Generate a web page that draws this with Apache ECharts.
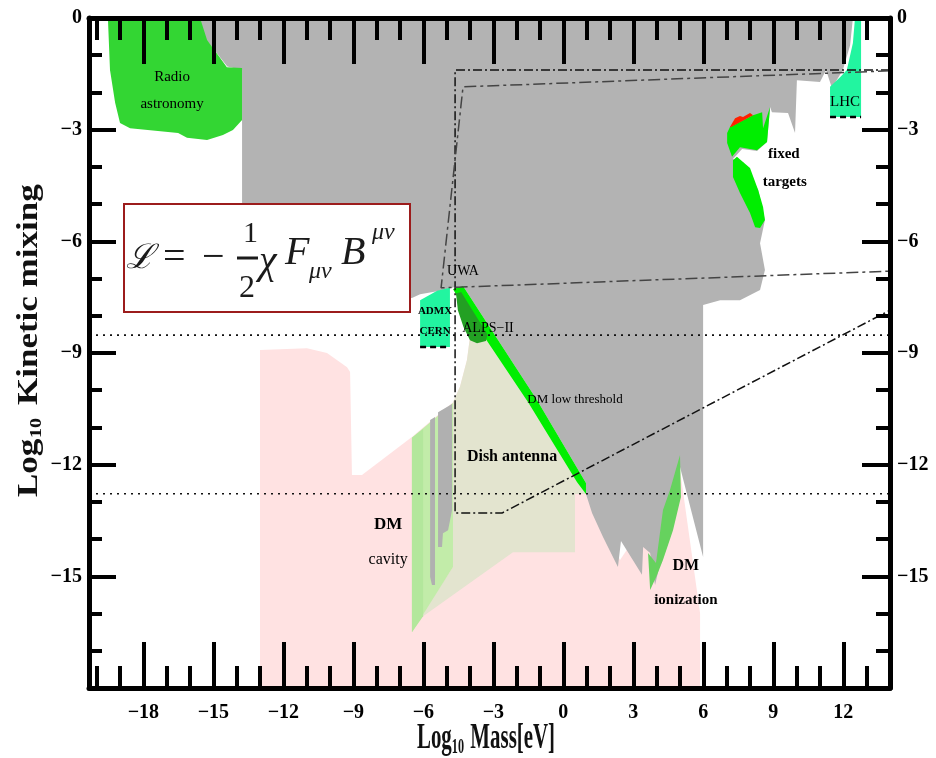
<!DOCTYPE html>
<html>
<head>
<meta charset="utf-8">
<title>Kinetic mixing limits</title>
<script src="https://cdn.jsdelivr.net/npm/echarts@6/dist/echarts.min.js"></script>
<style>
html, body { margin: 0; padding: 0; background: #fff; }
#chart { width: 936px; height: 758px; }
</style>
</head>
<body>
<div id="chart"></div>
<script>
// axis ranges / ticks (log10 mass in eV, log10 chi)
const xRange = [-20.33, 14.0];
const yRange = [-18, 0];
const xMajorTicks = [-18, -15, -12, -9, -6, -3, 0, 3, 6, 9, 12];
const xMinorTicks = [-20, -19, -17, -16, -14, -13, -11, -10, -8, -7, -5, -4, -2, -1, 1, 2, 4, 5, 7, 8, 10, 11, 13];
const yMajorTicks = [-15, -12, -9, -6, -3];
const yLabelValues = [0, -3, -6, -9, -12, -15];
const yMinorTicks = [-1, -2, -4, -5, -7, -8, -10, -11, -13, -14, -16, -17];

// regions, [log10 m, log10 chi]
const pinkRegion = [[-13.00,-18],[-13.00,-8.92],[-10.99,-8.87],[-10.13,-9.00],[-9.27,-9.38],[-9.14,-9.51],[-9.06,-12.28],[-8.63,-12.28],[-6.49,-11.26],[-4.73,-10.32],[-4.43,-9.91],[-4.13,-9.19],[-4.00,-8.57],[0.97,-12.79],[2.43,-14.56],[5.00,-12.14],[5.86,-15.99],[5.86,-18]];
const dishAntenna = [[-4.00,-8.57],[-3.14,-8.57],[0.97,-12.79],[0.50,-12.79],[0.50,-14.35],[-2.16,-14.35],[-6.19,-16.15],[-4.73,-14.75],[-4.73,-10.32],[-4.43,-9.91],[-4.13,-9.19]];
const dmCavity = [[-6.49,-11.28],[-4.73,-10.34],[-4.73,-14.75],[-6.49,-16.50]];
const dmCavityEdge = [[-6.49,-11.28],[-6.01,-11.04],[-6.01,-16.07],[-6.49,-16.50]];
const cavityStreakA = [[-5.71,-10.80],[-5.50,-10.72],[-5.50,-15.23],[-5.63,-15.23],[-5.71,-15.02]];
const cavityStreakB = [[-5.37,-10.59],[-4.77,-10.37],[-4.77,-13.22],[-4.94,-13.76],[-5.16,-13.84],[-5.20,-14.21],[-5.37,-14.21]];
const excludedRegion = [[-15.70,0],[12.41,0],[12.29,-0.73],[11.98,-1.40],[11.51,-1.88],[11.26,-1.40],[11.00,-1.72],[10.01,-1.67],[9.93,-3.09],[9.63,-2.55],[8.94,-2.53],[8.86,-2.39],[8.73,-3.33],[8.30,-3.57],[7.66,-3.52],[7.27,-3.79],[7.70,-3.87],[8.35,-4.62],[8.64,-5.43],[8.43,-6.05],[8.64,-6.77],[8.43,-7.31],[7.57,-7.58],[6.72,-7.58],[5.99,-7.71],[5.99,-14.48],[5.00,-12.06],[4.36,-13.22],[4.23,-14.43],[3.93,-15.23],[3.72,-14.37],[3.42,-14.21],[3.37,-14.96],[2.47,-14.05],[2.34,-14.75],[1.70,-13.94],[1.23,-13.30],[0.97,-12.79],[0.97,-12.49],[-1.13,-10.26],[-4.30,-7.20],[-4.64,-7.23],[-5.29,-7.33],[-6.14,-7.42],[-6.49,-7.52],[-13.00,-7.31],[-13.77,-6.23],[-13.77,-1.40],[-14.40,-1.30],[-15.35,-0.55]];
const radioAstronomy = [[-19.52,0],[-15.57,0],[-15.27,-0.59],[-14.42,-1.32],[-13.77,-1.34],[-13.77,-2.74],[-14.16,-3.01],[-14.59,-3.14],[-15.27,-3.28],[-16.13,-3.22],[-16.51,-3.09],[-18.57,-2.96],[-19.00,-2.82],[-19.21,-2.28],[-19.43,-1.40]];
const dmLowThreshold = [[-4.73,-7.28],[-4.30,-7.20],[-1.13,-10.26],[0.97,-12.49],[0.97,-12.79],[0.59,-12.47],[-1.51,-10.32],[-4.56,-7.47]];
const alpsII = [[-4.60,-7.40],[-4.38,-7.36],[-3.85,-7.90],[-3.25,-8.50],[-3.32,-8.68],[-3.70,-8.74],[-4.00,-8.66],[-4.28,-8.30],[-4.52,-7.85]];
const fixedTargetsUpper = [[7.02,-3.09],[7.14,-2.93],[8.13,-2.61],[8.52,-2.53],[8.56,-2.96],[8.86,-2.39],[8.73,-3.33],[8.30,-3.55],[7.57,-3.47],[7.23,-3.73],[7.02,-3.36]];
const fixedTargetsLower = [[7.27,-3.82],[7.44,-3.73],[7.70,-3.87],[8.00,-4.03],[8.35,-4.62],[8.56,-5.08],[8.64,-5.43],[8.43,-5.64],[8.22,-5.62],[8.00,-5.24],[7.57,-4.70],[7.27,-4.27]];
const fixedTargetsRed = [[7.14,-2.93],[7.36,-2.69],[7.57,-2.63],[7.70,-2.66],[8.00,-2.55],[8.13,-2.61],[7.19,-2.93]];
const lhc = [[12.50,0],[12.76,0],[12.76,-2.66],[11.43,-2.66],[11.43,-1.85],[11.86,-1.59],[12.15,-1.40],[12.41,-0.67]];
const admxCern = [[-6.14,-7.58],[-5.41,-7.33],[-4.86,-7.25],[-4.86,-8.84],[-6.14,-8.84]];
const dmIonization = [[5.00,-11.74],[5.04,-12.87],[4.70,-13.76],[4.27,-14.56],[4.02,-14.96],[3.72,-15.37],[3.63,-14.37],[3.97,-14.64],[4.27,-13.22],[4.57,-12.68]];

// projected sensitivity curves
const projectionOuter = [[14.0,-1.40],[-4.64,-1.40],[-4.64,-13.30],[-2.63,-13.30],[14.0,-7.85]];
const projectionInner = [[14.0,-1.42],[-4.30,-1.85],[-5.24,-7.25],[14.0,-6.80]];
const dottedUpper = [[-20.33,-8.52],[14.0,-8.52]];
const dottedLower = [[-20.33,-12.78],[14.0,-12.78]];
const admxDash = [[-6.14,-8.84],[-4.86,-8.84]];
const lhcDash = [[11.43,-2.66],[12.76,-2.66]];

// region labels: [text, log10 m, log10 chi]
const annotations = [
  ['Radio', -16.77, -1.59],
  ['astronomy', -16.77, -2.31],
  ['UWA', -4.30, -6.80],
  ['ADMX', -5.50, -7.87],
  ['CERN', -5.50, -8.41],
  ['ALPS\u2212II', -3.23, -8.33],
  ['DM low threshold', 0.50, -10.26],
  ['Dish antenna', -2.20, -11.79],
  ['DM', -7.51, -13.62],
  ['cavity', -7.51, -14.56],
  ['DM', 5.25, -14.72],
  ['ionization', 5.25, -15.64],
  ['fixed', 9.45, -3.65],
  ['targets', 9.49, -4.41],
  ['LHC', 12.07, -2.26]
];
const annotationFonts = [
  [15, 'normal'], [15, 'normal'], [14, 'normal'], [11, 'bold'], [11, 'bold'],
  [14, 'normal'], [13, 'normal'], [16, 'bold'], [17, 'bold'], [16, 'normal'],
  [16, 'bold'], [15, 'bold'], [15, 'bold'], [15, 'bold'], [15, 'normal']
];

const chart = echarts.init(document.getElementById('chart'));
const serif = '"Liberation Serif", "DejaVu Serif", serif';
const minus = v => (v < 0 ? '\u2212' + Math.abs(v) : String(v));

function polygon(name, points, color) {
  return {
    type: 'custom', name, silent: true, clip: true,
    xAxisIndex: 0, yAxisIndex: 0,
    data: points,
    renderItem: (params, api) => {
      if (params.dataIndex !== 0) return null;
      return {
        type: 'polygon',
        shape: { points: points.map(p => api.coord(p)) },
        style: { fill: color }
      };
    }
  };
}

function curve(name, points, color, type, width) {
  return {
    type: 'line', name, silent: true, data: points,
    showSymbol: false, symbol: 'none',
    lineStyle: { color, type, width },
    z: 5
  };
}

const gridBox = { left: 89, top: 18, width: 801, height: 670, containLabel: false, outerBoundsMode: 'none' };
const frame = { show: true, onZero: false, lineStyle: { color: '#000', width: 5 } };
const noLine = { show: false, onZero: false };
const tick = (values, len) => ({ show: true, inside: true, length: len, customValues: values, lineStyle: { color: '#000', width: 4 } });
const tickLabel = (values, margin) => ({
  show: true, customValues: values, margin, formatter: minus,
  color: '#000', fontFamily: serif, fontWeight: 'bold', fontSize: 20
});

function xAxis(grid, position, ticks, len, labels) {
  return {
    type: 'value', gridIndex: grid, position, min: xRange[0], max: xRange[1], z: 10,
    axisLine: grid === 0 ? frame : noLine,
    axisTick: tick(ticks, len),
    axisLabel: labels ? tickLabel(labels, 15) : { show: false },
    splitLine: { show: false }
  };
}
function yAxis(grid, position, ticks, len, labels) {
  return {
    type: 'value', gridIndex: grid, position, min: yRange[0], max: yRange[1], z: 10,
    axisLine: grid === 0 ? frame : noLine,
    axisTick: tick(ticks, len),
    axisLabel: labels ? tickLabel(labels, 7) : { show: false },
    splitLine: { show: false }
  };
}

const textStyle = (text, x, y, size, extra) => ({
  type: 'text', x, y, z: 60,
  style: Object.assign({
    text, fill: '#1b1b1b', fontFamily: serif, fontSize: size,
    align: 'left', verticalAlign: 'middle', textAlign: 'left', textVerticalAlign: 'middle'
  }, extra || {})
});

const option = {
  backgroundColor: '#fff',
  animation: false,
  grid: [gridBox, Object.assign({}, gridBox)],
  xAxis: [
    xAxis(0, 'bottom', xMajorTicks, 46, xMajorTicks),
    xAxis(0, 'top', xMajorTicks, 46, null),
    xAxis(1, 'bottom', xMinorTicks, 22, null),
    xAxis(1, 'top', xMinorTicks, 22, null)
  ],
  yAxis: [
    yAxis(0, 'left', yMajorTicks, 27, yLabelValues),
    yAxis(0, 'right', yMajorTicks, 28, yLabelValues),
    yAxis(1, 'left', yMinorTicks, 13, null),
    yAxis(1, 'right', yMinorTicks, 14, null)
  ],
  series: [
    polygon('pink', pinkRegion, '#ffe2e2'),
    polygon('Dish antenna', dishAntenna, '#e3e4cf'),
    polygon('DM cavity', dmCavity, '#c2eca9'),
    polygon('DM cavity edge', dmCavityEdge, '#b3e79c'),
    polygon('cavity streak A', cavityStreakA, '#b0b0b0'),
    polygon('cavity streak B', cavityStreakB, '#b0b0b0'),
    polygon('excluded', excludedRegion, '#b3b3b3'),
    polygon('Radio astronomy', radioAstronomy, '#33d633'),
    polygon('DM low threshold', dmLowThreshold, '#00ee00'),
    polygon('ALPS-II', alpsII, '#23a023'),
    polygon('fixed targets upper', fixedTargetsUpper, '#00ee00'),
    polygon('fixed targets lower', fixedTargetsLower, '#00ee00'),
    polygon('fixed targets red', fixedTargetsRed, '#ff2000'),
    polygon('LHC', lhc, '#22f5a0'),
    polygon('ADMX CERN', admxCern, '#22f5a0'),
    polygon('DM ionization', dmIonization, '#66d25e'),
    curve('outer', projectionOuter, '#111', [9, 3, 2, 3], 1.5),
    curve('inner', projectionInner, '#444', [12, 4, 3, 4], 1.5),
    curve('dotted upper', dottedUpper, '#111', [2, 5], 1.6),
    curve('dotted lower', dottedLower, '#111', [2, 5], 1.6),
    curve('ADMX dash', admxDash, '#000', [6, 4], 2.5),
    curve('LHC dash', lhcDash, '#000', [6, 4], 2.5),
    {
      type: 'custom', name: 'labels', silent: true, z: 8,
      xAxisIndex: 0, yAxisIndex: 0,
      data: annotations.map(a => [a[1], a[2]]),
      renderItem: (params, api) => {
        const a = annotations[params.dataIndex];
        const f = annotationFonts[params.dataIndex];
        const p = api.coord([a[1], a[2]]);
        return {
          type: 'text', x: p[0], y: p[1],
          style: {
            text: a[0], fill: '#000', fontFamily: serif,
            fontSize: f[0], fontWeight: f[1],
            align: 'center', verticalAlign: 'middle'
          }
        };
      }
    }
  ],
  graphic: [
    // Lagrangian box
    { type: 'rect', z: 50, shape: { x: 124, y: 204, width: 286, height: 108 },
      style: { fill: '#fff', stroke: '#9c1c1c', lineWidth: 2 } },
    textStyle('\u2112', 126, 259, 34, { fontFamily: '"DejaVu Serif", serif', fontStyle: 'italic' }),
    textStyle('=', 163, 258, 40),
    textStyle('\u2212', 202, 258, 40),
    textStyle('1', 243, 234, 30),
    { type: 'line', z: 60, shape: { x1: 237, y1: 258, x2: 258, y2: 258 }, style: { stroke: '#1b1b1b', lineWidth: 3 } },
    textStyle('2', 239, 289, 32),
    textStyle('\u03c7', 259, 262, 40, { fontStyle: 'italic' }),
    textStyle('F', 285, 253, 40, { fontStyle: 'italic' }),
    textStyle('\u03bc\u03bd', 309, 272, 24, { fontStyle: 'italic' }),
    textStyle('B', 341, 253, 40, { fontStyle: 'italic' }),
    textStyle('\u03bc\u03bd', 372, 233, 24, { fontStyle: 'italic' }),
    // axis titles
    {
      type: 'group', x: 417, y: 739, scaleX: 0.58, z: 60,
      children: [
        textStyle('Log', 0, 0, 36, { fontWeight: 'bold', fill: '#111' }),
        textStyle('10', 60, 9, 21, { fontWeight: 'bold', fill: '#111' }),
        textStyle('Mass[eV]', 92, 0, 36, { fontWeight: 'bold', fill: '#111' })
      ]
    },
    {
      type: 'group', x: 29, y: 497, rotation: Math.PI / 2, scaleY: 0.85, z: 60,
      children: [
        textStyle('Log', 0, 0, 35, { fontWeight: 'bold', fill: '#111' }),
        textStyle('10', 59, 9, 20, { fontWeight: 'bold', fill: '#111' }),
        textStyle('Kinetic mixing', 92, 0, 35, { fontWeight: 'bold', fill: '#111' })
      ]
    }
  ]
};

chart.setOption(option);
window.addEventListener('resize', () => chart.resize());
</script>
</body>
</html>
